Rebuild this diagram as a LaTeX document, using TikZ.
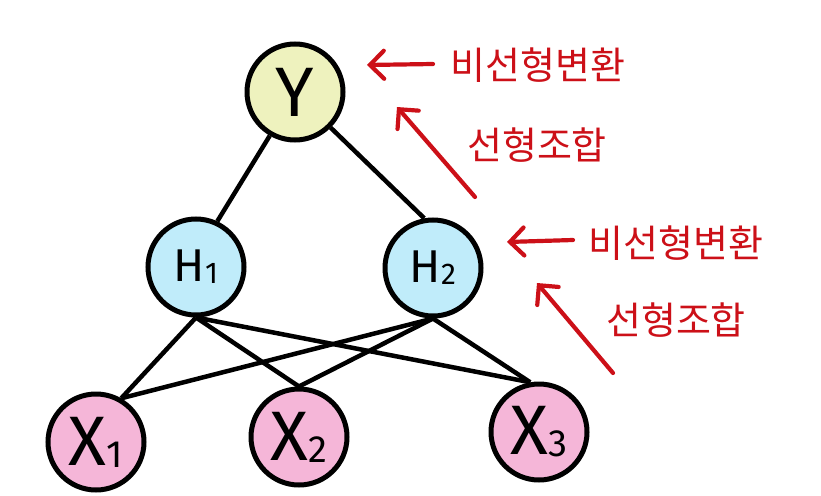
\documentclass[tikz,border=0pt]{standalone}
\usepackage{fontspec}
\setsansfont{Fira Sans}
\newfontfamily\kor{Noto Sans CJK KR}
\usetikzlibrary{arrows.meta,positioning}
\definecolor{ynode}{RGB}{238,242,190}
\definecolor{hnode}{RGB}{192,236,250}
\definecolor{xnode}{RGB}{245,182,216}
\definecolor{inkred}{RGB}{204,16,24}
\newcommand{\idx}[2]{\raisebox{-2pt}{\fontsize{#1}{#1}\selectfont #2}}

\begin{document}
\begin{tikzpicture}[x=1pt, y=-1pt,
    unit/.style={circle, draw=black, line width=5pt, minimum size=96pt,
        inner sep=0pt, font=\sffamily\fontsize{70}{70}\selectfont},
    hunit/.style={unit, fill=hnode, font=\sffamily\fontsize{46}{46}\selectfont},
    link/.style={line width=4.5pt, black},
    note/.style={inkred, font=\kor\fontsize{38}{42}\selectfont, inner sep=0pt},
    redarr/.style={-{Straight Barb[length=14pt, width=28pt, line cap=round]},
        line width=4.2pt, inkred, line cap=round}
]
    \useasboundingbox (0,0) rectangle (821,495);

    % network
    \node[unit, fill=ynode] (y) at (295,92) {Y};
    \node[hunit] (h1) at (196,267) {H\idx{30}{1}};
    \node[hunit] (h2) at (433,268) {H\idx{30}{2}};
    \node[unit, fill=xnode] (x1) at (96,442) {X\idx{38}{1}};
    \node[unit, fill=xnode] (x2) at (299,437) {X\idx{38}{2}};
    \node[unit, fill=xnode] (x3) at (539,432) {X\idx{38}{3}};

    \draw[link] (y.240) -- (h1.65);
    \draw[link] (y.-45) -- (h2.100);
    \foreach \h in {h1,h2} {
        \draw[link] (\h.south) -- (x1.60);
        \draw[link] (\h.south) -- (x2.north);
        \draw[link] (\h.south) -- (x3.100);
    }

    % annotations
    \node[note] (nl1) at (538,65) {비선형변환};
    \node[note] (lc1) at (537,145) {선형조합};
    \node[note] (nl2) at (676,243) {비선형변환};
    \node[note] (lc2) at (676,320) {선형조합};

    \coordinate (nl1tail) at (433,64);
    \coordinate (nl1tip) at (367,65);
    \coordinate (lc1tail) at (475,197);
    \coordinate (lc1tip) at (397,107);
    \coordinate (nl2tail) at (573,240);
    \coordinate (nl2tip) at (507,242);
    \coordinate (lc2tail) at (613,373);
    \coordinate (lc2tip) at (537,283);

    \draw[redarr] (nl1tail) -- (nl1tip);
    \draw[redarr] (lc1tail) -- (lc1tip);
    \draw[redarr] (nl2tail) -- (nl2tip);
    \draw[redarr] (lc2tail) -- (lc2tip);
\end{tikzpicture}
\end{document}
